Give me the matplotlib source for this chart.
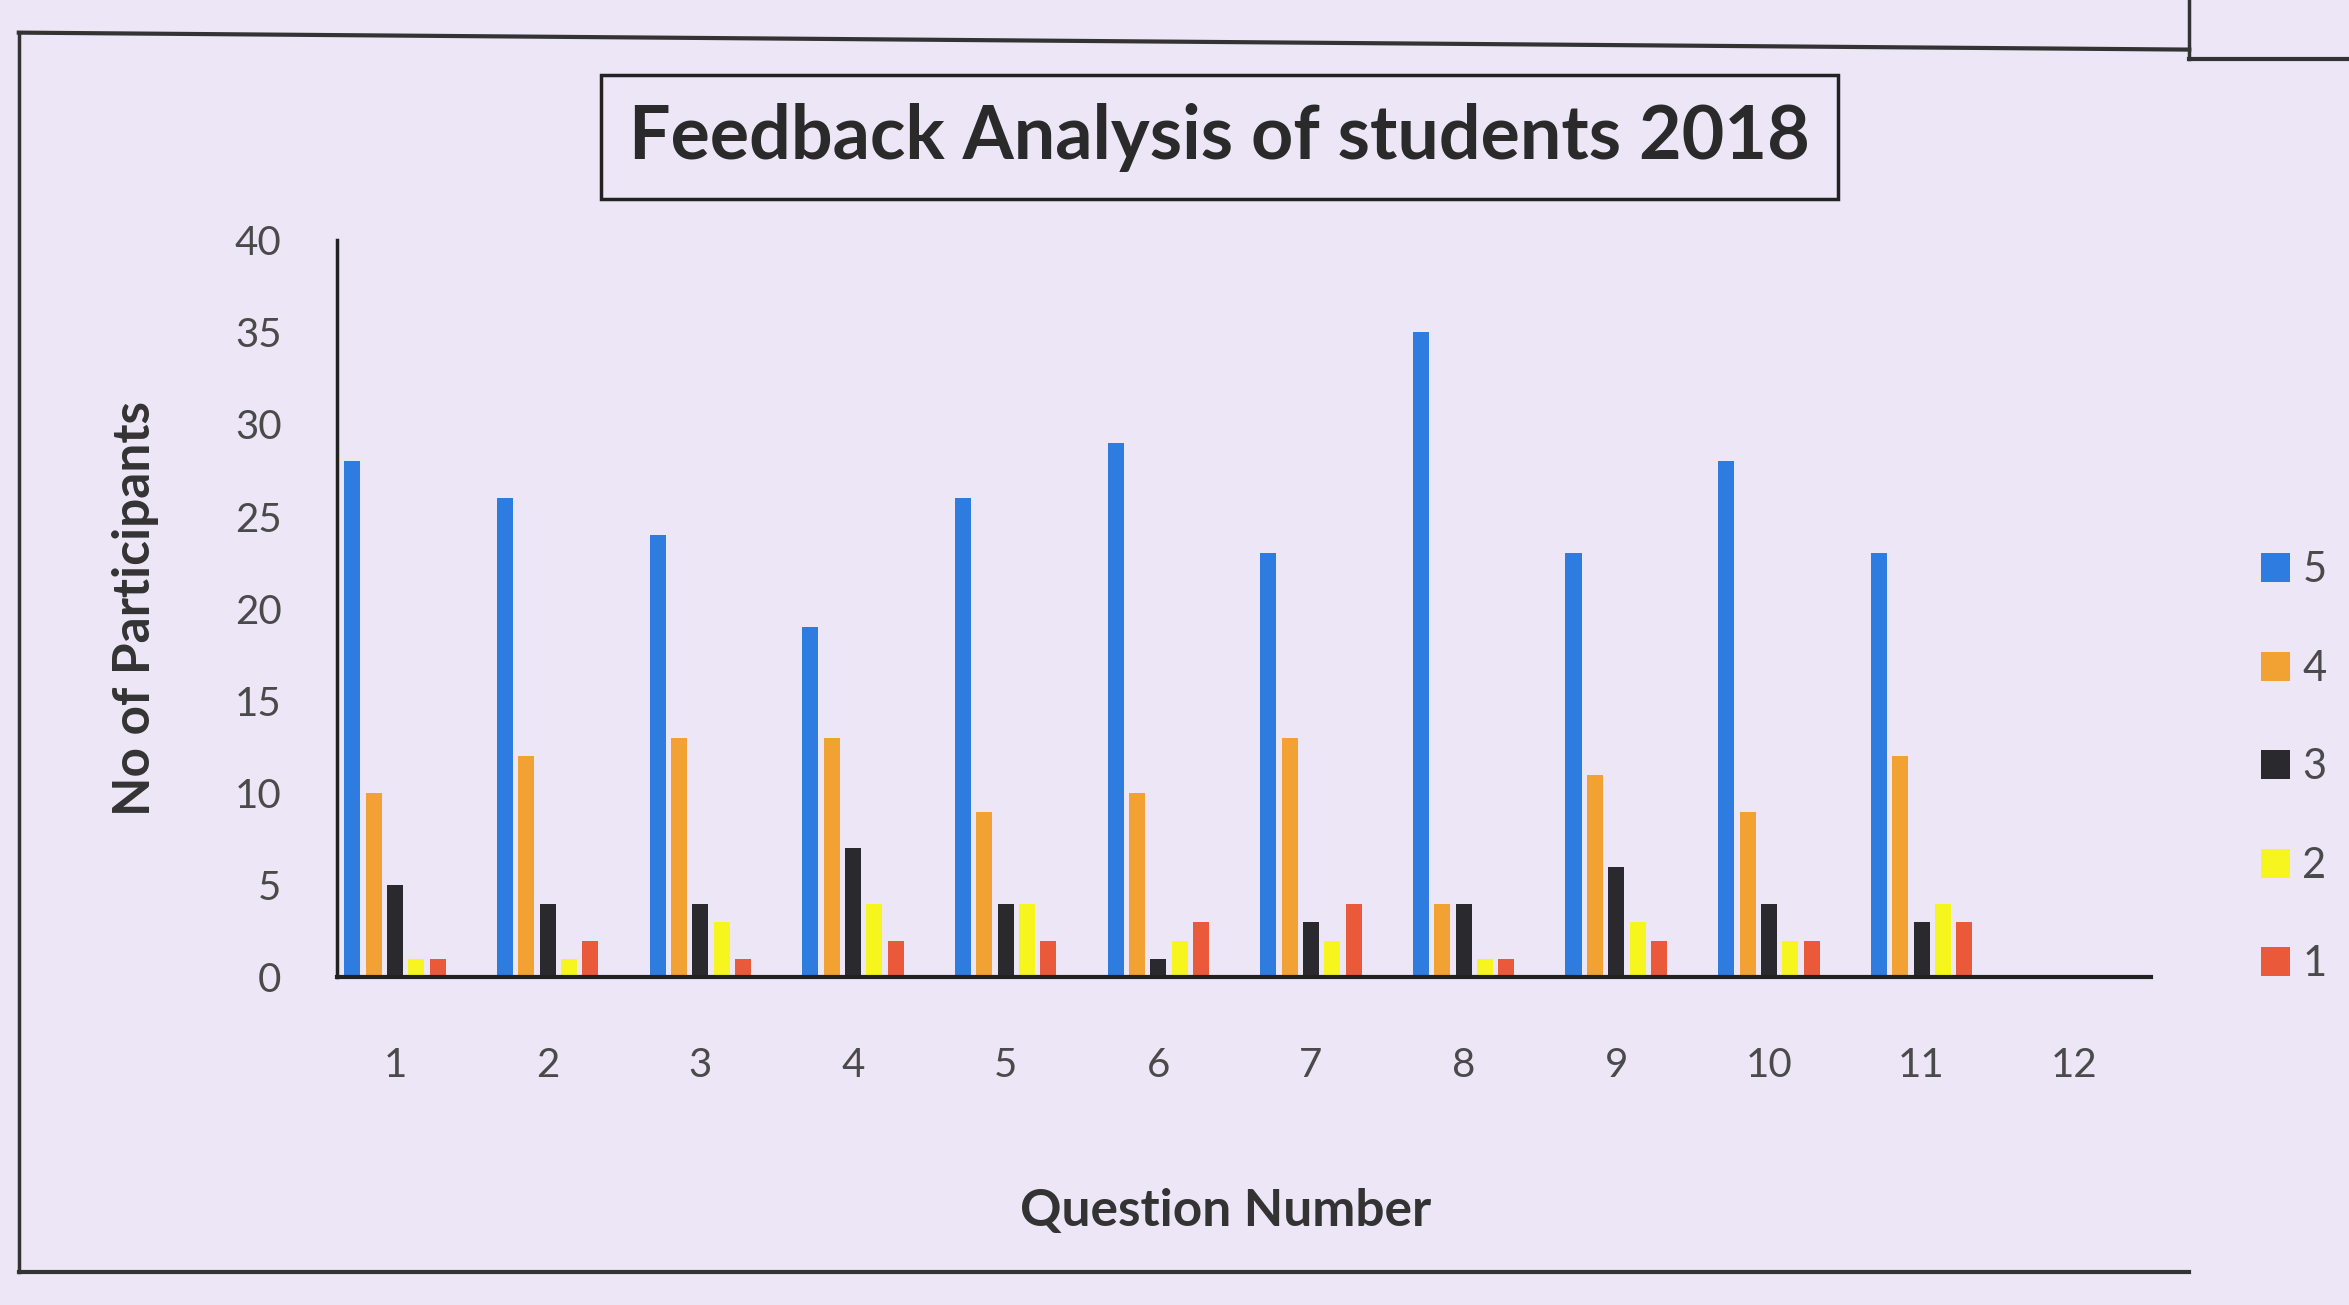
import numpy as np
import matplotlib.pyplot as plt
from matplotlib.lines import Line2D

questions = [str(i) for i in range(1, 13)]
ratings = ["5", "4", "3", "2", "1"]

# counts per question (question 12 has no data)
r5 = [28, 26, 24, 19, 26, 29, 23, 35, 23, 28, 23, 0]
r4 = [10, 12, 13, 13, 9, 10, 13, 4, 11, 9, 12, 0]
r3 = [5, 4, 4, 7, 4, 1, 3, 4, 6, 4, 3, 0]
r2 = [1, 1, 3, 4, 4, 2, 2, 1, 3, 2, 4, 0]
r1 = [1, 2, 1, 2, 2, 3, 4, 1, 2, 2, 3, 0]

series = [r5, r4, r3, r2, r1]
colors = ["#2F7CE0", "#F2A232", "#2A2A2E", "#F6F51E", "#EA5A3A"]

plt.rcParams['font.family'] = ['Lato', 'DejaVu Sans']
bg = "#ECE6F6"

fig = plt.figure(figsize=(23.49, 13.05), dpi=100, facecolor=bg)
ax = fig.add_axes([0.1435, 0.251, 0.772, 0.565])
ax.set_facecolor(bg)

x = np.arange(1, len(questions) + 1)
pitch = 0.14
width = 0.105
for i, (vals, c, lab) in enumerate(zip(series, colors, ratings)):
    ax.bar(x + (i - 2) * pitch, vals, width=width, color=c, label=lab)

ax.set_xlim(0.62, 12.5)
ax.set_ylim(0, 40)
ax.set_yticks(range(0, 41, 5))
ax.set_xticks(x)
ax.set_xticklabels(questions)
ax.tick_params(axis='both', length=0, labelsize=29, labelcolor="#4a4a4a")
ax.tick_params(axis='x', pad=50)
ax.tick_params(axis='y', pad=40)

for s in ["top", "right"]:
    ax.spines[s].set_visible(False)
ax.spines["left"].set_color("#222222")
ax.spines["left"].set_linewidth(2.5)
ax.spines["bottom"].set_color("#222222")
ax.spines["bottom"].set_linewidth(3)

ax.set_ylabel("No of Participants", fontsize=37, fontweight="bold", color="#333333")
ax.yaxis.set_label_coords(-0.098, 0.5)
ax.set_xlabel("Question Number", fontsize=37, fontweight="bold", color="#333333")
ax.xaxis.set_label_coords(0.49, -0.285)

ax.legend(loc="center left", bbox_to_anchor=(1.04, 0.285), frameon=False,
          fontsize=30, labelcolor="#4a4a4a", handlelength=0.7, handleheight=0.7,
          handletextpad=0.3, labelspacing=1.45)

fig.text(0.519, 0.895, "Feedback Analysis of students 2018", ha="center", va="center",
         fontsize=53, fontweight="bold", color="#2a2a2a",
         bbox=dict(boxstyle="square,pad=0.38", facecolor="none", edgecolor="#222222", linewidth=2.5))

# outer document frame
fig.add_artist(Line2D([0.008, 0.008], [0.025, 0.975], color="#333333", lw=2.5))
fig.add_artist(Line2D([0.008, 0.932], [0.025, 0.025], color="#333333", lw=3))
fig.add_artist(Line2D([0.008, 0.932], [0.975, 0.962], color="#333333", lw=3))
fig.add_artist(Line2D([0.932, 1.0], [0.955, 0.955], color="#333333", lw=3))
fig.add_artist(Line2D([0.932, 0.932], [0.955, 1.0], color="#333333", lw=2.5))

fig.savefig("out.png", dpi=100, facecolor=bg)
